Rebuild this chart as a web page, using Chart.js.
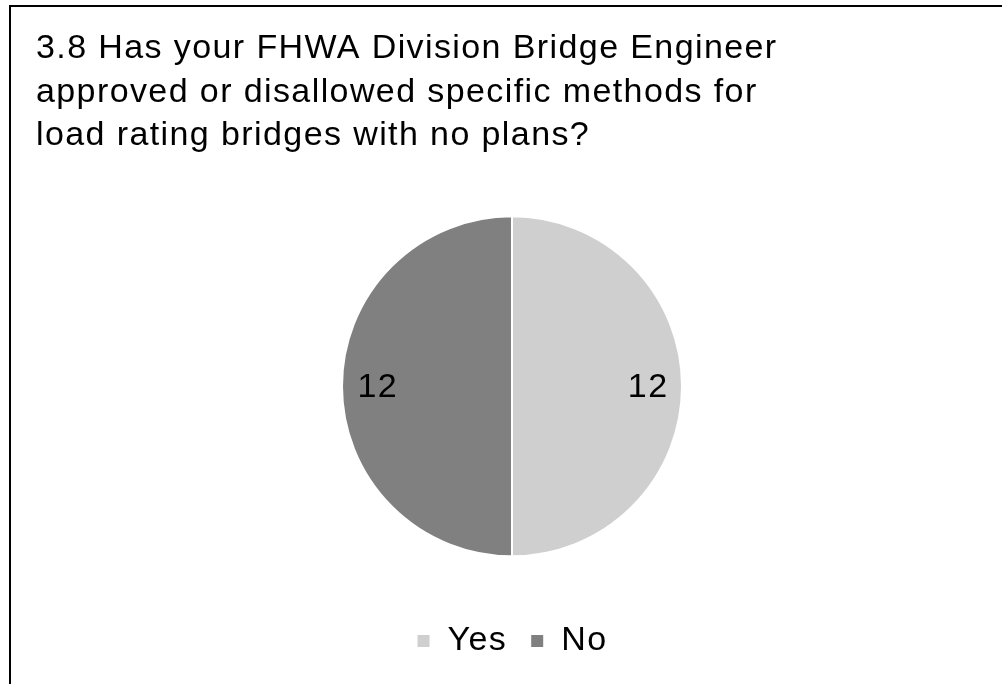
<!DOCTYPE html>
<html>
<head>
<meta charset="utf-8">
<script src="https://cdn.jsdelivr.net/npm/chart.js@4.4.0/dist/chart.umd.min.js"></script>
<style>
  html, body { margin: 0; padding: 0; background: #fff; }
  #wrap { position: relative; width: 1002px; height: 684px; }
  #frame { position: absolute; left: 9px; top: 5px; right: 0; bottom: 0;
           border-left: 2px solid #000; border-top: 2px solid #000; pointer-events: none; }
  canvas { position: absolute; left: 0; top: 0; }
</style>
</head>
<body>
<div id="wrap">
  <canvas id="pie" width="1002" height="684"></canvas>
  <div id="frame"></div>
</div>
<script>
let titleLines = ['3.8 Has your FHWA Division Bridge Engineer',
                  'approved or disallowed specific methods for',
                  'load rating bridges with no plans?']
let labels = ['Yes', 'No']
let counts = [12, 12]
let colors = ['#cfcfcf', '#808080']

let fontFamily = '"Liberation Sans", Arial, sans-serif'

// the original text is a bit wider than plain Arial, so spread the letters
let spacing = {
  id: 'spacing',
  beforeUpdate(chart) { chart.ctx.letterSpacing = '1.4px' },
  beforeDraw(chart) { chart.ctx.letterSpacing = '1.4px' }
}

// draws the count inside each slice
let sliceLabels = {
  id: 'sliceLabels',
  afterDatasetsDraw(chart) {
    let ctx = chart.ctx
    let meta = chart.getDatasetMeta(0)
    ctx.save()
    ctx.font = '34px ' + fontFamily
    ctx.fillStyle = '#000'
    ctx.textAlign = 'center'
    ctx.textBaseline = 'middle'
    meta.data.forEach((arc, i) => {
      let p = arc.getProps(['x', 'y', 'startAngle', 'endAngle', 'outerRadius'], true)
      let mid = (p.startAngle + p.endAngle) / 2
      let r = p.outerRadius * 0.795
      ctx.fillText(String(counts[i]), p.x + Math.cos(mid) * r + 1, p.y + Math.sin(mid) * r + 1)
    })
    ctx.restore()
  }
}

let chart = new Chart(document.getElementById('pie').getContext('2d'), {
  type: 'pie',
  data: {
    labels: labels,
    datasets: [{
      data: counts,
      backgroundColor: colors,
      borderColor: '#fff',
      borderWidth: 2,
      radius: 170
    }]
  },
  options: {
    responsive: false,
    animation: false,
    layout: { padding: { top: 27, left: 36, right: 14, bottom: 16 } },
    plugins: {
      title: {
        display: true,
        text: titleLines,
        align: 'start',
        color: '#000',
        font: { family: fontFamily, size: 34, weight: 'normal', lineHeight: 1.28 },
        padding: { top: 0, bottom: 14 }
      },
      legend: {
        position: 'bottom',
        labels: {
          color: '#000',
          boxWidth: 14,
          boxHeight: 14,
          padding: 23,
          font: { family: fontFamily, size: 34 }
        }
      },
      tooltip: { enabled: false }
    }
  },
  plugins: [spacing, sliceLabels]
})
</script>
</body>
</html>
